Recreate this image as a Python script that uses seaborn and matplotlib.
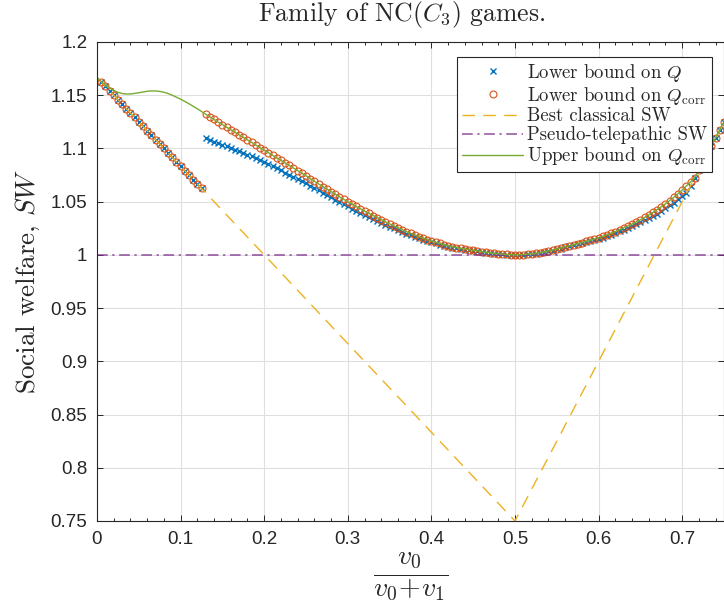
import matplotlib
matplotlib.use("Agg")
import matplotlib.pyplot as plt
from matplotlib.ticker import MultipleLocator, FormatStrFormatter
import seaborn as sns

# x grid of the marker series
x_left = [0.005, 0.010, 0.015, 0.020, 0.025, 0.030, 0.035, 0.040, 0.045, 0.050,
          0.055, 0.060, 0.065, 0.070, 0.075, 0.080, 0.085, 0.090, 0.095, 0.100,
          0.105, 0.110, 0.115, 0.120, 0.125]
x_right = [0.130, 0.135, 0.140, 0.145, 0.150, 0.155, 0.160, 0.165, 0.170, 0.175,
           0.180, 0.185, 0.190, 0.195, 0.200, 0.205, 0.210, 0.215, 0.220, 0.225,
           0.230, 0.235, 0.240, 0.245, 0.250, 0.255, 0.260, 0.265, 0.270, 0.275,
           0.280, 0.285, 0.290, 0.295, 0.300, 0.305, 0.310, 0.315, 0.320, 0.325,
           0.330, 0.335, 0.340, 0.345, 0.350, 0.355, 0.360, 0.365, 0.370, 0.375,
           0.380, 0.385, 0.390, 0.395, 0.400, 0.405, 0.410, 0.415, 0.420, 0.425,
           0.430, 0.435, 0.440, 0.445, 0.450, 0.455, 0.460, 0.465, 0.470, 0.475,
           0.480, 0.485, 0.490, 0.495, 0.500, 0.505, 0.510, 0.515, 0.520, 0.525,
           0.530, 0.535, 0.540, 0.545, 0.550, 0.555, 0.560, 0.565, 0.570, 0.575,
           0.580, 0.585, 0.590, 0.595, 0.600, 0.605, 0.610, 0.615, 0.620, 0.625,
           0.630, 0.635, 0.640, 0.645, 0.650, 0.655, 0.660, 0.665, 0.670, 0.675,
           0.680, 0.685, 0.690, 0.695, 0.700, 0.705, 0.710, 0.715, 0.720, 0.725,
           0.730, 0.735, 0.740, 0.745, 0.750]

# both lower bounds coincide on the left part
lower_left = [1.1625, 1.1583, 1.1542, 1.1500, 1.1458, 1.1417, 1.1375, 1.1333, 1.1292, 1.1250,
              1.1208, 1.1167, 1.1125, 1.1083, 1.1042, 1.1000, 1.0958, 1.0917, 1.0875, 1.0833,
              1.0792, 1.0750, 1.0708, 1.0667, 1.0625]

q_lower_right = [1.1095, 1.1080, 1.1065, 1.1050, 1.1034, 1.1019, 1.1004, 1.0989, 1.0974, 1.0959,
                 1.0942, 1.0925, 1.0908, 1.0891, 1.0874, 1.0854, 1.0834, 1.0814, 1.0794, 1.0774,
                 1.0754, 1.0734, 1.0714, 1.0694, 1.0674, 1.0649, 1.0627, 1.0606, 1.0584, 1.0563,
                 1.0541, 1.0519, 1.0497, 1.0476, 1.0455, 1.0434, 1.0414, 1.0394, 1.0375, 1.0356,
                 1.0337, 1.0319, 1.0301, 1.0283, 1.0266, 1.0248, 1.0232, 1.0215, 1.0200, 1.0185,
                 1.0170, 1.0157, 1.0144, 1.0131, 1.0119, 1.0108, 1.0097, 1.0086, 1.0077, 1.0069,
                 1.0061, 1.0055, 1.0049, 1.0043, 1.0039, 1.0032, 1.0027, 1.0021, 1.0016, 1.0012,
                 1.0008, 1.0004, 1.0002, 1.0001, 1.0000, 1.0000, 1.0002, 1.0004, 1.0008, 1.0012,
                 1.0018, 1.0025, 1.0033, 1.0041, 1.0051, 1.0060, 1.0070, 1.0079, 1.0089, 1.0098,
                 1.0109, 1.0119, 1.0130, 1.0140, 1.0151, 1.0163, 1.0176, 1.0190, 1.0205, 1.0221,
                 1.0236, 1.0252, 1.0268, 1.0286, 1.0305, 1.0324, 1.0344, 1.0365, 1.0388, 1.0412,
                 1.0437, 1.0464, 1.0492, 1.0523, 1.0553, 1.0586, 1.0650, 1.0725, 1.0800, 1.0875,
                 1.0950, 1.1025, 1.1100, 1.1175, 1.1250]

qcorr_lower_right = [1.1320, 1.1296, 1.1272, 1.1248, 1.1224, 1.1200, 1.1176, 1.1152, 1.1128, 1.1104,
                     1.1080, 1.1056, 1.1032, 1.1008, 1.0984, 1.0960, 1.0936, 1.0912, 1.0888, 1.0864,
                     1.0840, 1.0816, 1.0792, 1.0768, 1.0744, 1.0716, 1.0691, 1.0667, 1.0642, 1.0618,
                     1.0594, 1.0570, 1.0546, 1.0523, 1.0500, 1.0477, 1.0455, 1.0433, 1.0412, 1.0391,
                     1.0370, 1.0350, 1.0330, 1.0310, 1.0291, 1.0272, 1.0254, 1.0236, 1.0219, 1.0203,
                     1.0187, 1.0172, 1.0158, 1.0144, 1.0131, 1.0119, 1.0107, 1.0096, 1.0086, 1.0077,
                     1.0069, 1.0062, 1.0055, 1.0049, 1.0044, 1.0037, 1.0031, 1.0025, 1.0020, 1.0015,
                     1.0011, 1.0007, 1.0004, 1.0002, 1.0000, 1.0001, 1.0003, 1.0006, 1.0010, 1.0015,
                     1.0021, 1.0028, 1.0036, 1.0045, 1.0055, 1.0065, 1.0075, 1.0085, 1.0095, 1.0105,
                     1.0116, 1.0127, 1.0138, 1.0149, 1.0161, 1.0174, 1.0188, 1.0203, 1.0219, 1.0236,
                     1.0253, 1.0271, 1.0289, 1.0309, 1.0330, 1.0352, 1.0375, 1.0399, 1.0425, 1.0452,
                     1.0480, 1.0510, 1.0542, 1.0576, 1.0610, 1.0647, 1.0685, 1.0725, 1.0800, 1.0875,
                     1.0950, 1.1025, 1.1100, 1.1175, 1.1250]

# upper bound on Q_corr, left part (then it follows the Q_corr lower bound)
x_upper_left = [0.000, 0.005, 0.010, 0.015, 0.020, 0.025, 0.030, 0.035, 0.040, 0.045,
                0.050, 0.055, 0.060, 0.065, 0.070, 0.075, 0.080, 0.085, 0.090, 0.095,
                0.100, 0.105, 0.110, 0.115, 0.120, 0.125]
upper_left = [1.1667, 1.1630, 1.1597, 1.1568, 1.1545, 1.1528, 1.1516, 1.1511, 1.1512, 1.1517,
              1.1524, 1.1531, 1.1537, 1.1540, 1.1540, 1.1536, 1.1528, 1.1516, 1.1500, 1.1482,
              1.1463, 1.1442, 1.1420, 1.1397, 1.1373, 1.1347]

x_classical = [0.0, 0.5, 0.75]
classical_sw = [1.1667, 0.75, 1.125]
x_telepathic = [0.0, 0.75]
telepathic_sw = [1.0, 1.0]

sns.set_theme(style="whitegrid")
plt.rcParams['font.family'] = ['Liberation Sans', 'DejaVu Sans']
plt.rcParams['mathtext.fontset'] = 'cm'
plt.rcParams['axes.unicode_minus'] = False

blue = '#0072BD'
orange = '#D95319'
yellow = '#EDB120'
purple = '#7E2F8E'
green = '#77AC30'

fig = plt.figure(figsize=(7.24, 6.05), dpi=100)
ax = fig.add_axes([97 / 724, 1 - 521 / 605, 627 / 724, 479 / 605])

sns.lineplot(x=x_left + x_right, y=lower_left + q_lower_right, ax=ax, sort=False, estimator=None,
             color=blue, linestyle='none', marker='x', markersize=4.5, markeredgewidth=1.0,
             markeredgecolor=blue, label='Lower bound on $Q$')
sns.lineplot(x=x_left + x_right, y=lower_left + qcorr_lower_right, ax=ax, sort=False, estimator=None,
             color=orange, linestyle='none', marker='o', markersize=5, markeredgewidth=0.8,
             markeredgecolor=orange, markerfacecolor='none',
             label=r'Lower bound on $Q_{\mathrm{corr}}$')
sns.lineplot(x=x_classical, y=classical_sw, ax=ax, sort=False, estimator=None,
             color=yellow, linewidth=1.0, dashes=(9, 6), label='Best classical SW')
sns.lineplot(x=x_telepathic, y=telepathic_sw, ax=ax, sort=False, estimator=None,
             color=purple, linewidth=1.1, alpha=0.85, dashes=(7, 3, 1.5, 3),
             label='Pseudo-telepathic SW')
sns.lineplot(x=x_upper_left + x_right, y=upper_left + qcorr_lower_right, ax=ax, sort=False,
             estimator=None, color=green, linewidth=1.0,
             label=r'Upper bound on $Q_{\mathrm{corr}}$')

ax.set_xlim(0, 0.75)
ax.set_ylim(0.75, 1.2)
ax.xaxis.set_major_locator(MultipleLocator(0.1))
ax.xaxis.set_minor_locator(MultipleLocator(0.02))
ax.yaxis.set_major_locator(MultipleLocator(0.05))
ax.xaxis.set_major_formatter(FormatStrFormatter('%g'))
ax.yaxis.set_major_formatter(FormatStrFormatter('%g'))

ax.set_facecolor('white')
ax.grid(True, which='major', color='#dfdfdf', linewidth=0.8)
ax.grid(False, which='minor')
for s in ax.spines.values():
    s.set_color('#262626')
    s.set_linewidth(0.8)
ax.tick_params(which='both', direction='in', top=True, right=True, bottom=True, left=True,
               color='#262626', labelcolor='#262626', labelsize=13.5, width=0.7)
ax.tick_params(which='major', length=4, pad=7)
ax.tick_params(which='minor', length=2.5)
ax.tick_params(axis='y', which='minor', left=False, right=False)

ax.set_xlabel(r'$\dfrac{v_0}{v_0\!+\!v_1}$', fontsize=20, labelpad=2)
ax.set_ylabel('Social welfare, $SW$', fontsize=19.5, family='cmr10', labelpad=6)
fig.text(401.5 / 724, 1 - 15 / 605, 'Family of NC$(C_3)$ games.', fontsize=18.5,
         family='cmr10', ha='center', va='center')

leg = ax.legend(loc='upper right', bbox_to_anchor=((712 - 97) / 627, 1 - 15 / 479),
                borderaxespad=0, prop={'family': 'cmr10', 'size': 13.5},
                frameon=True, fancybox=False, edgecolor='#262626', framealpha=1,
                handlelength=3.3, labelspacing=0.05, borderpad=0.25, handletextpad=0.2)
leg.get_frame().set_linewidth(0.8)

fig.savefig('out.png', dpi=100)
